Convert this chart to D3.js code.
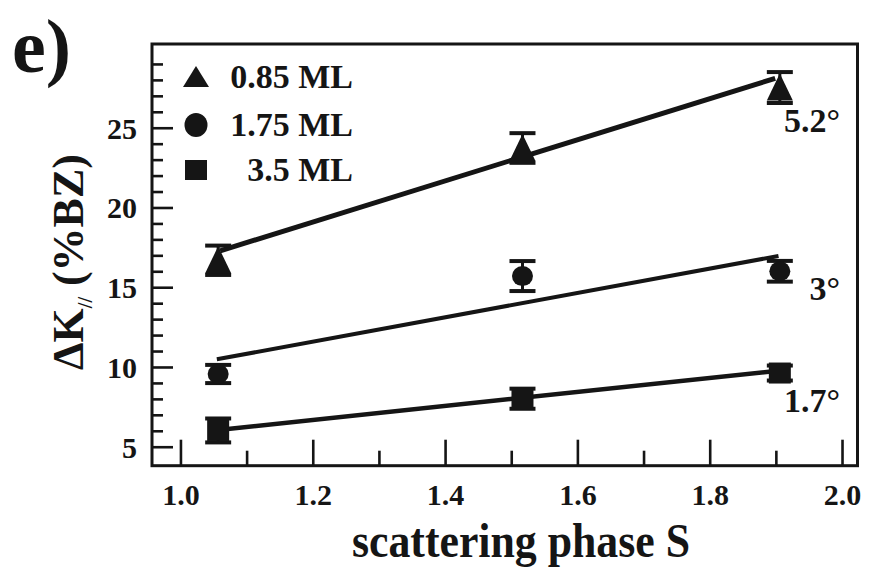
<!DOCTYPE html>
<html lang="en">
<head>
<meta charset="UTF-8">
<title>Delta K vs scattering phase</title>
<script src="https://d3js.org/d3.v7.min.js"></script>
<style>
  body { margin: 0; background: #fff; }
  svg text { font-family: "Liberation Serif", "Times New Roman", serif; font-weight: bold; fill: #151515; }
</style>
</head>
<body>
<div id="chart"></div>
<script>
// scattering phase S of the three measurements
const phase = [1.057, 1.517, 1.906];

// series (coverage in ML)
const seriesNames = ["0.85 ML", "1.75 ML", "3.5 ML"];
const tri = [16.69, 23.73, 27.52];
const triErr = [0.92, 0.93, 0.97];
const circ = [9.56, 15.70, 16.0];
const circErr = [0.57, 0.94, 0.65];
const sq = [6.02, 8.01, 9.62];
const sqErr = [0.75, 0.63, 0.47];

// linear fits drawn through each series: [start, end]
const triFitX = [1.060, 1.899], triFitY = [17.28, 28.10];
const circFitX = [1.055, 1.904], circFitY = [10.48, 16.96];
const sqFitX = [1.057, 1.900], sqFitY = [6.05, 9.75];

// tilt angle labels
const angleLabels = ["5.2°", "3°", "1.7°"];

// tick labels
const xTickVals = [1.0, 1.2, 1.4, 1.6, 1.8, 2.0];
const yTickVals = [5, 10, 15, 20, 25];

const W = 870, H = 571;
const ink = "#151515";

const svg = d3.select("#chart").append("svg")
    .attr("width", W)
    .attr("height", H);

svg.append("rect").attr("width", W).attr("height", H).attr("fill", "#fff");

const x = d3.scaleLinear().domain([0.957, 2.0234]).range([152, 857.5]);
const y = d3.scaleLinear().domain([3.81, 30.25]).range([465.7, 44]);

// panel letter
svg.append("text")
    .attr("x", 12)
    .attr("y", 72)
    .attr("font-size", 76)
    .text("e)");

// minor / major ticks, all pointing inward
const yMinor = d3.range(5, 30, 1);
const xMinor = d3.range(10, 21, 1).map(d => d / 10);

svg.append("g")
    .attr("transform", `translate(${x.range()[0]},0)`)
    .call(d3.axisLeft(y).tickValues(yMinor.filter(d => d % 5 !== 0)).tickSize(-11).tickFormat(""))
    .call(g => g.select(".domain").remove())
    .call(g => g.selectAll("line").attr("stroke", ink).attr("stroke-width", 2.6));

svg.append("g")
    .attr("transform", `translate(${x.range()[0]},0)`)
    .call(d3.axisLeft(y).tickValues(yTickVals).tickSize(-21).tickPadding(15).tickFormat(d3.format("d")))
    .call(g => g.select(".domain").remove())
    .call(g => g.selectAll("line").attr("stroke", ink).attr("stroke-width", 2.6))
    .call(g => g.selectAll("text")
        .attr("font-size", 30)
        .attr("fill", ink)
        .attr("x", -15)
        .attr("dy", "0.35em"));

svg.append("g")
    .attr("transform", `translate(0,${y.range()[0]})`)
    .call(d3.axisBottom(x).tickValues(xMinor.filter(d => Math.round(d * 10) % 2 !== 0)).tickSize(-15).tickFormat(""))
    .call(g => g.select(".domain").remove())
    .call(g => g.selectAll("line").attr("stroke", ink).attr("stroke-width", 2.6));

svg.append("g")
    .attr("transform", `translate(0,${y.range()[0]})`)
    .call(d3.axisBottom(x).tickValues(xTickVals).tickSize(-26).tickFormat(d3.format(".1f")))
    .call(g => g.select(".domain").remove())
    .call(g => g.selectAll("line").attr("stroke", ink).attr("stroke-width", 2.6))
    .call(g => g.selectAll("text")
        .attr("font-size", 30)
        .attr("fill", ink)
        .attr("y", 39)
        .attr("dy", "0"));

// frame
svg.append("rect")
    .attr("x", x.range()[0])
    .attr("y", y.range()[1])
    .attr("width", x.range()[1] - x.range()[0])
    .attr("height", y.range()[0] - y.range()[1])
    .attr("fill", "none")
    .attr("stroke", ink)
    .attr("stroke-width", 3);

// axis titles
svg.append("text")
    .attr("x", 521)
    .attr("y", 557)
    .attr("text-anchor", "middle")
    .attr("font-size", 48)
    .attr("textLength", 338)
    .attr("lengthAdjust", "spacingAndGlyphs")
    .text("scattering phase S");

const yTitle = svg.append("text")
    .attr("transform", "translate(83,262) rotate(-90)")
    .attr("text-anchor", "middle")
    .attr("font-size", 44);
yTitle.append("tspan").text("ΔK");
yTitle.append("tspan").attr("font-size", 20).attr("dy", 9).text("//");
yTitle.append("tspan").attr("dy", -9).text(" (%BZ)");

// fit lines
const fits = [
    { xs: triFitX, ys: triFitY, w: 5 },
    { xs: circFitX, ys: circFitY, w: 4 },
    { xs: sqFitX, ys: sqFitY, w: 4.5 }
];
svg.append("g").selectAll("line")
    .data(fits)
    .join("line")
    .attr("x1", d => x(d.xs[0]))
    .attr("y1", d => y(d.ys[0]))
    .attr("x2", d => x(d.xs[1]))
    .attr("y2", d => y(d.ys[1]))
    .attr("stroke", ink)
    .attr("stroke-width", d => d.w);

// markers and error bars
const triPath = "M0,-14L13,13L-13,13Z";
const series = [
    { vals: tri, errs: triErr, shape: "tri" },
    { vals: circ, errs: circErr, shape: "circ" },
    { vals: sq, errs: sqErr, shape: "sq" }
];

const capW = 13;
series.forEach(s => {
    const g = svg.append("g");
    const pts = s.vals.map((v, i) => ({ x: phase[i], v: v, e: s.errs[i] }));

    g.selectAll(".err")
        .data(pts)
        .join("line")
        .attr("x1", d => x(d.x)).attr("x2", d => x(d.x))
        .attr("y1", d => y(d.v + d.e)).attr("y2", d => y(d.v - d.e))
        .attr("stroke", ink).attr("stroke-width", 3);

    g.selectAll(".capTop")
        .data(pts)
        .join("line")
        .attr("x1", d => x(d.x) - capW).attr("x2", d => x(d.x) + capW)
        .attr("y1", d => y(d.v + d.e)).attr("y2", d => y(d.v + d.e))
        .attr("stroke", ink).attr("stroke-width", 4);

    g.selectAll(".capBot")
        .data(pts)
        .join("line")
        .attr("x1", d => x(d.x) - capW).attr("x2", d => x(d.x) + capW)
        .attr("y1", d => y(d.v - d.e)).attr("y2", d => y(d.v - d.e))
        .attr("stroke", ink).attr("stroke-width", 4);

    if (s.shape === "tri") {
        g.selectAll(".m").data(pts).join("path")
            .attr("d", triPath)
            .attr("transform", d => `translate(${x(d.x)},${y(d.v)})`)
            .attr("fill", ink);
    } else if (s.shape === "circ") {
        g.selectAll(".m").data(pts).join("ellipse")
            .attr("cx", d => x(d.x)).attr("cy", d => y(d.v))
            .attr("rx", 10.5).attr("ry", 10)
            .attr("fill", ink);
    } else {
        g.selectAll(".m").data(pts).join("rect")
            .attr("x", d => x(d.x) - 11).attr("y", d => y(d.v) - 10.5)
            .attr("width", 22).attr("height", 21)
            .attr("fill", ink);
    }
});

// angle labels next to each fit end
const angleDy = [54, 44, 41];
svg.append("g").selectAll("text")
    .data(angleLabels)
    .join("text")
    .attr("x", x(2.0) - 2)
    .attr("y", (d, i) => y(fits[i].ys[1]) + angleDy[i])
    .attr("text-anchor", "end")
    .attr("font-size", 34)
    .text(d => d);

// legend
const legend = svg.append("g").attr("transform", "translate(196,0)");
const legendRows = [77, 125, 170];
legend.append("path")
    .attr("d", "M0,-11L13,10L-13,10Z")
    .attr("transform", `translate(0,${legendRows[0]})`)
    .attr("fill", ink);
legend.append("ellipse")
    .attr("cx", 0).attr("cy", legendRows[1])
    .attr("rx", 11.5).attr("ry", 12)
    .attr("fill", ink);
legend.append("rect")
    .attr("x", -11).attr("y", legendRows[2] - 10)
    .attr("width", 22).attr("height", 20)
    .attr("fill", ink);
legend.selectAll(".lbl")
    .data(seriesNames)
    .join("text")
    .attr("x", 157)
    .attr("y", (d, i) => legendRows[i] + 11)
    .attr("text-anchor", "end")
    .attr("font-size", 34)
    .text(d => d);
</script>
</body>
</html>
